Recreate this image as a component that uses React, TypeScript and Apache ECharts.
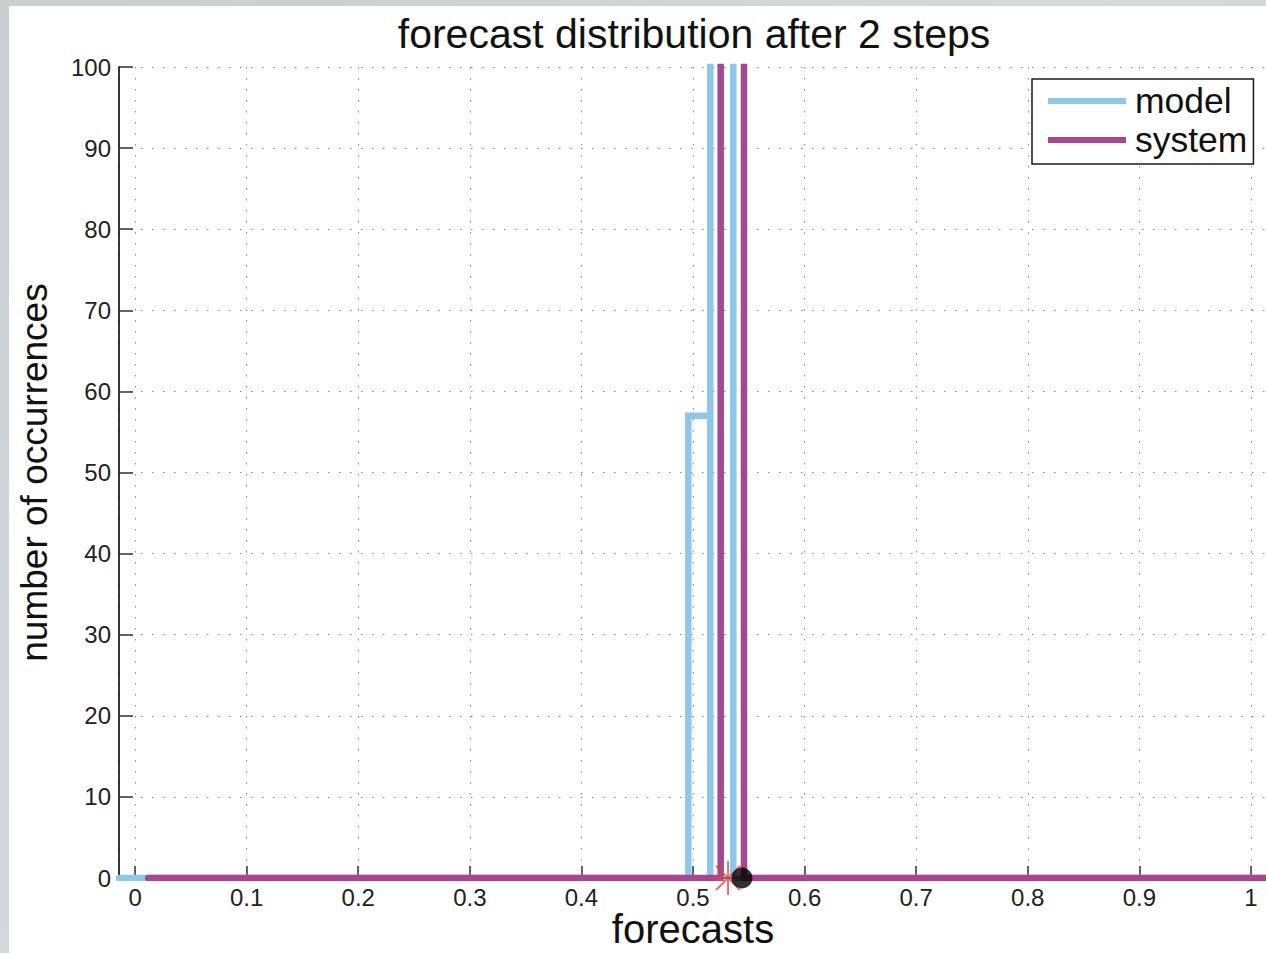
import React, { useEffect, useRef } from "react";
import * as echarts from "echarts";

const titleText = "forecast distribution after 2 steps";
const xName = "forecasts";
const yName = "number of occurrences";
const seriesNames = ["model", "system"];

const xMin = -0.0144;
const xMax = 1.0144;
const yMin = 0;
const yMax = 100;
const yInterval = 10;

// histogram outlines (counts above 100 run off the top of the axes)
const modelX = [-0.0144, 0.4958, 0.4958, 0.5155, 0.5155, 0.5155, 0.5361, 0.5361, 1.0144];
const modelY = [0, 0, 57, 57, 0, 200, 200, 0, 0];
const systemX = [0.0117, 0.5248, 0.5248, 0.5457, 0.5457, 1.0144];
const systemY = [0, 0, 200, 200, 0, 0];

const starPoint = [0.5314, 0];
const dotPoint = [0.5439, 0];

const FONT = "'Liberation Sans', Arial, Helvetica, sans-serif";
const BLUE = "#8ec8e8";
const MAGENTA = "#a6478f";

const zip = (xs: number[], ys: number[]) => xs.map((x, i) => [x, ys[i]]);

export default function App() {
  const ref = useRef<HTMLDivElement>(null);

  useEffect(() => {
    if (!ref.current) return;
    const chart = echarts.init(ref.current, undefined, { renderer: "svg" });
    const fmtX = (v: number) => {
      const t = v * 10;
      if (Math.abs(t - Math.round(t)) > 1e-6) return "";
      return String(+v.toFixed(1));
    };
    chart.setOption({
      animation: false,
      backgroundColor: "#ffffff",
      title: {
        text: titleText,
        left: 680,
        top: 2,
        textAlign: "center",
        textStyle: { fontFamily: FONT, fontSize: 41, fontWeight: "normal", color: "#111" },
      },
      legend: {
        data: [
          { name: seriesNames[0], icon: "rect" },
          { name: seriesNames[1], icon: "rect" },
        ],
        orient: "vertical",
        left: 1023,
        top: 73,
        itemWidth: 78,
        itemHeight: 6,
        itemGap: 1,
        padding: [3, 6, 5, 16],
        backgroundColor: "#fff",
        borderColor: "#1a1a1a",
        borderWidth: 1.5,
        borderRadius: 0,
        selectedMode: false,
        textStyle: {
          fontFamily: FONT,
          fontSize: 35.5,
          color: "#111",
          lineHeight: 38,
          padding: [0, 0, 0, 4],
        },
      },
      grid: {
        left: 110,
        top: 61,
        right: 32,
        bottom: 75,
        containLabel: false,
        outerBoundsMode: "none",
      },
      xAxis: {
        type: "value",
        min: xMin,
        max: xMax,
        splitNumber: 10,
        name: xName,
        nameLocation: "middle",
        nameGap: 36,
        nameMoveOverlap: false,
        nameTextStyle: { fontFamily: FONT, fontSize: 40, lineHeight: 30, color: "#111" },
        axisLine: { show: true, onZero: false, lineStyle: { color: "#222", width: 1.5 } },
        axisTick: { show: true, inside: true, length: 12, lineStyle: { color: "#333", width: 1.5 } },
        axisLabel: {
          formatter: fmtX,
          fontFamily: FONT,
          fontSize: 24,
          color: "#222",
          margin: 7,
          showMinLabel: true,
          showMaxLabel: true,
        },
        splitLine: { show: true, lineStyle: { color: "#8a8a8a", width: 1, type: [1.5, 9.5] } },
      },
      yAxis: {
        type: "value",
        min: yMin,
        max: yMax,
        interval: yInterval,
        name: yName,
        nameLocation: "middle",
        nameGap: 66,
        nameRotate: 90,
        nameTextStyle: { fontFamily: FONT, fontSize: 37, color: "#111" },
        axisLine: { show: true, onZero: false, lineStyle: { color: "#222", width: 1.8 } },
        axisTick: { show: true, inside: true, length: 14, lineStyle: { color: "#333", width: 1.5 } },
        axisLabel: { fontFamily: FONT, fontSize: 24, color: "#222", margin: 8 },
        splitLine: { show: true, lineStyle: { color: "#8a8a8a", width: 1, type: [1.5, 9.5] } },
      },
      series: [
        {
          name: seriesNames[0],
          type: "line",
          data: zip(modelX, modelY),
          showSymbol: false,
          symbol: "none",
          color: BLUE,
          lineStyle: { color: BLUE, width: 6.5, cap: "round", join: "miter" },
          z: 3,
        },
        {
          name: seriesNames[1],
          type: "line",
          data: zip(systemX, systemY),
          showSymbol: false,
          symbol: "none",
          color: MAGENTA,
          lineStyle: { color: MAGENTA, width: 6.5, cap: "round", join: "miter" },
          z: 4,
        },
        {
          name: "observation",
          type: "scatter",
          data: [starPoint],
          clip: false,
          symbol:
            "path://M0,-10L0,10M-10,0L10,0M-7.07,-7.07L7.07,7.07M-7.07,7.07L7.07,-7.07",
          symbolSize: 34,
          itemStyle: { color: "none", borderColor: "#e0403a", borderWidth: 1.8 },
          z: 5,
        },
        {
          name: "truth",
          type: "scatter",
          data: [dotPoint],
          clip: false,
          symbol: "circle",
          symbolSize: 21,
          itemStyle: { color: "#000", borderColor: "#000", borderWidth: 0 },
          z: 6,
        },
      ],
    });
    return () => chart.dispose();
  }, []);

  return (
    <div
      style={{
        position: "fixed",
        left: 0,
        top: 0,
        right: 0,
        bottom: 0,
        background: "linear-gradient(135deg, #c9ced3 0%, #d6dadd 50%, #c9ced3 100%)",
        overflow: "hidden",
      }}
    >
      <div
        ref={ref}
        style={{
          position: "absolute",
          left: 9,
          top: 6,
          width: 1290,
          height: 947,
          background: "#fff",
        }}
      />
    </div>
  );
}
